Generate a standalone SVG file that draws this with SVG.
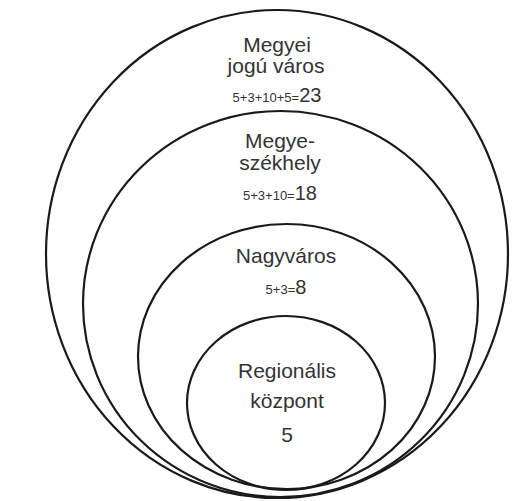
<svg xmlns="http://www.w3.org/2000/svg" width="520" height="501" viewBox="0 0 520 501">
<style>
.e{fill:none;stroke:#1a1a1a;stroke-width:2.2}
.t{font-family:"Liberation Sans",Arial,sans-serif;fill:#333;text-anchor:middle;font-size:21px}
.s{font-size:13px}
.b{font-size:20px}
</style>
<rect width="520" height="501" fill="#fff"/>
<g id="megyei-jogu-varos">
<ellipse class="e" cx="277" cy="254" rx="231" ry="244"/>
<text class="t" x="277" y="52">Megyei</text>
<text class="t" x="276" y="73">jogú város</text>
<text class="t" x="277" y="102"><tspan class="s">5+3+10+5=</tspan><tspan class="b">23</tspan></text>
</g>
<g id="megyeszekhely">
<ellipse class="e" cx="280.5" cy="304" rx="197.5" ry="193"/>
<text class="t" x="280" y="148">Megye-</text>
<text class="t" x="280" y="170">székhely</text>
<text class="t" x="280" y="200"><tspan class="s">5+3+10=</tspan><tspan class="b">18</tspan></text>
</g>
<g id="nagyvaros">
<ellipse class="e" cx="286.5" cy="356.5" rx="148.5" ry="132.5"/>
<text class="t" x="286" y="263">Nagyváros</text>
<text class="t" x="286" y="294"><tspan class="s">5+3=</tspan><tspan class="b">8</tspan></text>
</g>
<g id="regionalis-kozpont">
<ellipse class="e" cx="286" cy="403" rx="99" ry="87"/>
<text class="t" x="287" y="378">Regionális</text>
<text class="t" x="287" y="408">központ</text>
<text class="t" x="287" y="442">5</text>
</g>
</svg>
